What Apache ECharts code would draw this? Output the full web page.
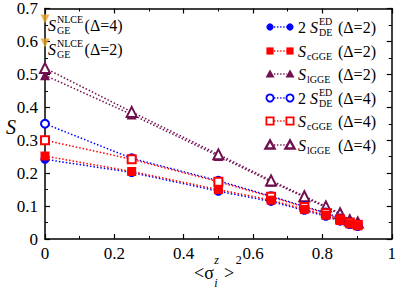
<!DOCTYPE html>
<html><head><meta charset="utf-8">
<script src="https://cdn.jsdelivr.net/npm/echarts@6/dist/echarts.min.js"></script>
<style>html,body{margin:0;padding:0;background:#fff}#c{width:399px;height:291px}</style>
</head><body><div id="c"></div>
<script>
// ---- data ----
const xVals  = [0, 0.25, 0.5, 0.652, 0.748, 0.81, 0.851, 0.879, 0.902];
const sDE2   = [0.242, 0.202, 0.145, 0.114, 0.087, 0.069, 0.054, 0.044, 0.038];
const cGGE2  = [0.252, 0.205, 0.150, 0.118, 0.090, 0.072, 0.056, 0.046, 0.040];
const lGGE2  = [0.497, 0.378, 0.252, 0.174, 0.127, 0.096, 0.075, 0.055, 0.048];
const sDE4   = [0.350, 0.245, 0.177, 0.130, 0.099, 0.080, 0.062, 0.051, 0.044];
const cGGE4  = [0.300, 0.242, 0.174, 0.128, 0.097, 0.078, 0.060, 0.050, 0.043];
const lGGE4  = [0.519, 0.386, 0.257, 0.178, 0.130, 0.099, 0.078, 0.057, 0.050];
const nlceX  = [0, 0];
const nlceY  = [0.668, 0.595];
const nlceDelta = ['4', '2'];
const xTicks = [0, 0.2, 0.4, 0.6, 0.8, 1];
const yTicks = [0, 0.1, 0.2, 0.3, 0.4, 0.5, 0.6, 0.7];

const BLUE = '#0000ff', RED = '#ff0000', MAR = '#70104f', GOLD = '#e6a020';
const SERIF = '"Liberation Serif", "DejaVu Serif", "Times New Roman", serif';
const zip = (xs, ys) => xs.map((x, i) => [x, ys[i]]);

const chart = echarts.init(document.getElementById('c'), null, {renderer: 'svg'});

function lineSeries(name, ys, color, symbol, size, bw) {
  return {
    name, type: 'line', data: zip(xVals, ys), clip: false,
    symbol, symbolSize: size, showSymbol: true, animation: false,
    lineStyle: {color, width: 1.5, type: [1.5, 2]},
    itemStyle: {color, borderWidth: bw},
    z: 3
  };
}

const axisCommon = {
  min: 0, splitLine: {show: false},
  axisLine: {show: true, onZero: false, lineStyle: {color: '#000', width: 1.5}},
  axisTick: {show: true, inside: true, length: 5, lineStyle: {color: '#000', width: 1.2}},
  minorTick: {show: true, splitNumber: 2, length: 3, lineStyle: {color: '#000', width: 1}},
  minorSplitLine: {show: false}
};

const option = {
  animation: false,
  backgroundColor: '#fff',
  textStyle: {fontFamily: SERIF},
  grid: {left: 45, right: 4, top: 8, bottom: 52, containLabel: false},
  xAxis: [
    Object.assign({}, axisCommon, {type: 'value', max: 1, interval: 0.2, position: 'bottom',
      axisLabel: {show: true, margin: 6, color: '#000', fontFamily: SERIF, fontSize: 17,
        formatter: v => { const t = xTicks.find(k => Math.abs(k - v) < 1e-9); return t === undefined ? '' : String(t); }}}),
    Object.assign({}, axisCommon, {type: 'value', max: 1, interval: 0.2, position: 'top', axisLabel: {show: false}})
  ],
  yAxis: [
    Object.assign({}, axisCommon, {type: 'value', max: 0.7, interval: 0.1, position: 'left',
      axisLabel: {show: true, margin: 7, color: '#000', fontFamily: SERIF, fontSize: 17,
        formatter: v => { const t = yTicks.find(k => Math.abs(k - v) < 1e-9); return t === undefined ? '' : String(t); }}}),
    Object.assign({}, axisCommon, {type: 'value', max: 0.7, interval: 0.1, position: 'right', axisLabel: {show: false}})
  ],
  series: [
    lineSeries('lGGE2', lGGE2, MAR, 'triangle', 10, 0),
    lineSeries('lGGE4', lGGE4, MAR, 'emptyTriangle', 10, 3),
    lineSeries('sDE4', sDE4, BLUE, 'emptyCircle', 8, 2),
    lineSeries('cGGE4', cGGE4, RED, 'emptyRect', 8, 2),
    lineSeries('sDE2', sDE2, BLUE, 'circle', 9, 0),
    lineSeries('cGGE2', cGGE2, RED, 'rect', 9, 0),
    {name: 'NLCE', type: 'scatter', data: zip(nlceX, nlceY), clip: false,
     symbol: 'triangle', symbolRotate: 180, symbolSize: 9, itemStyle: {color: GOLD}, z: 5}
  ]
};
chart.setOption(option);

// ---- text helpers ----
const mctx = document.createElement('canvas').getContext('2d');
function fnt(size, italic) { return (italic ? 'italic ' : '') + size + 'px ' + SERIF; }
function tw(t, size, italic) { mctx.font = fnt(size, italic); return mctx.measureText(t).width; }
function txt(t, x, y, size, italic) {
  return {type: 'text', z: 100, style: {text: t, x, y, fontFamily: SERIF, fontSize: size, fontStyle: italic ? 'italic' : 'normal', fill: '#000', align: 'left', verticalAlign: 'middle'}};
}
function sLabel(x, y, pre, sup, sub, post, postX, size) {
  const els = []; let cx = x;
  if (pre) { els.push(txt(pre, cx, y, size, false)); cx += tw(pre, size, false); }
  els.push(txt('S', cx, y, size, true)); cx += tw('S', size, true) + 1;
  const ss = 10;
  let sw = 0;
  if (sup) { els.push(txt(sup, cx, y - 5.5, ss, false)); sw = Math.max(sw, tw(sup, ss, false)); }
  if (sub) { els.push(txt(sub, cx, y + 5.5, ss, false)); sw = Math.max(sw, tw(sub, ss, false)); }
  cx += sw + 1.5;
  els.push(txt(post, postX != null ? Math.max(postX, cx) : cx, y, size, false));
  return els;
}

function legendSymbol(kind, color, empty, cx, cy) {
  const st = empty ? {fill: '#fff', stroke: color, lineWidth: kind === 'tri' ? 2.4 : 1.8} : {fill: color};
  if (kind === 'circle') return {type: 'circle', z: 100, shape: {cx, cy, r: 3.6}, style: st};
  if (kind === 'rect') return {type: 'rect', z: 100, shape: {x: cx - 3.6, y: cy - 3.6, width: 7.2, height: 7.2}, style: st};
  return {type: 'polygon', z: 100, shape: {points: [[cx, cy - 4.5], [cx - 4.5, cy + 3.5], [cx + 4.5, cy + 3.5]]}, style: st};
}

const legendRows = [
  {kind: 'circle', color: BLUE, empty: false, pre: '2 ', sup: 'ED', sub: 'DE', d: '2'},
  {kind: 'rect', color: RED, empty: false, pre: '', sup: '', sub: 'cGGE', d: '2'},
  {kind: 'tri', color: MAR, empty: false, pre: '', sup: '', sub: 'lGGE', d: '2'},
  {kind: 'circle', color: BLUE, empty: true, pre: '2 ', sup: 'ED', sub: 'DE', d: '4'},
  {kind: 'rect', color: RED, empty: true, pre: '', sup: '', sub: 'cGGE', d: '4'},
  {kind: 'tri', color: MAR, empty: true, pre: '', sup: '', sub: 'lGGE', d: '4'}
];
const rowY = [27, 51, 74, 98, 121, 145];

const g = [];
legendRows.forEach((r, i) => {
  const y = rowY[i];
  g.push({type: 'line', z: 99, shape: {x1: 274, y1: y, x2: 287, y2: y},
          style: {stroke: r.color, lineWidth: 1.3, lineDash: [1.3, 1.8]}});
  g.push(legendSymbol(r.kind, r.color, r.empty, 270, y));
  g.push(legendSymbol(r.kind, r.color, r.empty, 290, y));
  sLabel(298, y, r.pre, r.sup, r.sub, '(\u0394=' + r.d + ')', 338, 16).forEach(e => g.push(e));
});

nlceY.forEach((v, i) => {
  const p = chart.convertToPixel({xAxisIndex: 0, yAxisIndex: 0}, [nlceX[i], v]);
  sLabel(p[0] + 3, p[1] + 6, '', 'NLCE', 'GE', '(\u0394=' + nlceDelta[i] + ')', null, 16).forEach(e => g.push(e));
});

(function () {
  const y = 273; let x = 194;
  g.push(txt('<\u03c3', x, y, 18, false)); x += tw('<\u03c3', 18, false) + 0.5;
  g.push(txt('z', x, y - 13, 12, true));
  g.push(txt('i', x, y + 10, 12, true));
  x += tw('z', 12, true) + 5;
  g.push(txt('>', x, y, 18, false)); x += tw('>', 18, false) + 1.5;
  g.push(txt('2', x, y - 13, 12, false));
  g.push({type: 'text', z: 100, style: {text: 'S', x: 11, y: 127, fontFamily: SERIF, fontSize: 20, fontStyle: 'italic', fill: '#000', align: 'center', verticalAlign: 'middle'}});
})();

chart.setOption({graphic: g});
</script>
</body></html>
